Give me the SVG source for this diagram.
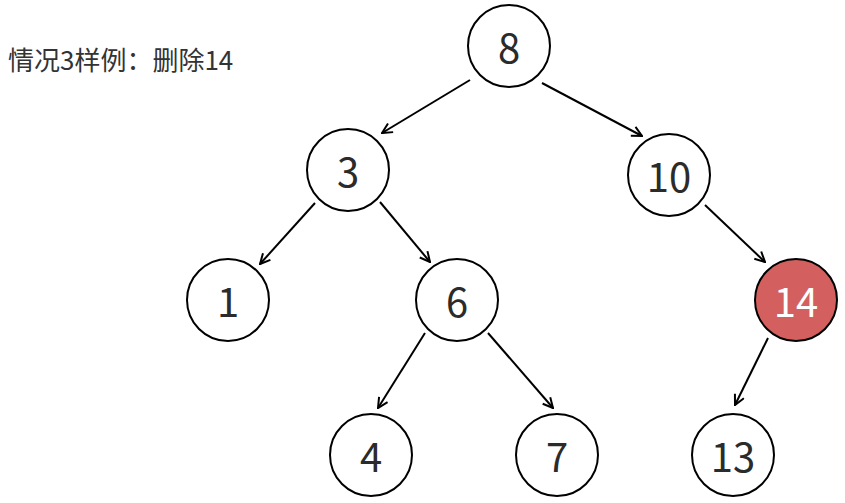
<svg xmlns="http://www.w3.org/2000/svg" width="845" height="503" viewBox="0 0 845 503">
<style>
.n circle{fill:#fff;stroke:#000;stroke-width:2}
.n text{font-family:"Noto Sans CJK SC","Noto Sans",sans-serif;font-size:40px;fill:#2b2b2b;text-anchor:middle;dominant-baseline:central}
.e line{stroke:#000;stroke-width:2;marker-end:url(#a)}
.t{font-family:"Noto Sans CJK SC","Noto Sans",sans-serif;font-size:26px;fill:#333}
</style>
<defs><marker id="a" viewBox="0 0 12 12" refX="11" refY="6" markerWidth="12" markerHeight="12" markerUnits="userSpaceOnUse" orient="auto"><path d="M1,1 L11,6 L1,11" fill="none" stroke="#000" stroke-width="2"/></marker></defs>
<rect width="845" height="503" fill="#fff"/>
<text class="t" x="8" y="70">情况3样例：删除14</text>
<g class="e">
<line x1="470" y1="80" x2="382" y2="133"/>
<line x1="542" y1="83" x2="642" y2="136"/>
<line x1="315" y1="203" x2="260" y2="264"/>
<line x1="380" y1="202" x2="430" y2="262"/>
<line x1="705" y1="205" x2="765" y2="262"/>
<line x1="425" y1="333" x2="378" y2="408"/>
<line x1="488" y1="333" x2="553" y2="408"/>
<line x1="768" y1="338" x2="735" y2="405"/>
</g>
<g class="n" id="n8"><circle cx="509" cy="46" r="41"/><text x="509" y="46">8</text></g>
<g class="n" id="n3"><circle cx="348" cy="170" r="41"/><text x="348" y="170">3</text></g>
<g class="n" id="n10"><circle cx="669" cy="175" r="41"/><text x="669" y="175">10</text></g>
<g class="n" id="n1"><circle cx="228" cy="300" r="41"/><text x="228" y="300">1</text></g>
<g class="n" id="n6"><circle cx="457" cy="300" r="41"/><text x="457" y="300">6</text></g>
<g class="n" id="n14"><circle cx="796" cy="300" r="41" style="fill:#d35f5f"/><text x="796" y="300" style="fill:#fff">14</text></g>
<g class="n" id="n4"><circle cx="371" cy="455" r="41"/><text x="371" y="455">4</text></g>
<g class="n" id="n7"><circle cx="557" cy="455" r="41"/><text x="557" y="455">7</text></g>
<g class="n" id="n13"><circle cx="733" cy="455" r="41"/><text x="733" y="455">13</text></g>
</svg>
